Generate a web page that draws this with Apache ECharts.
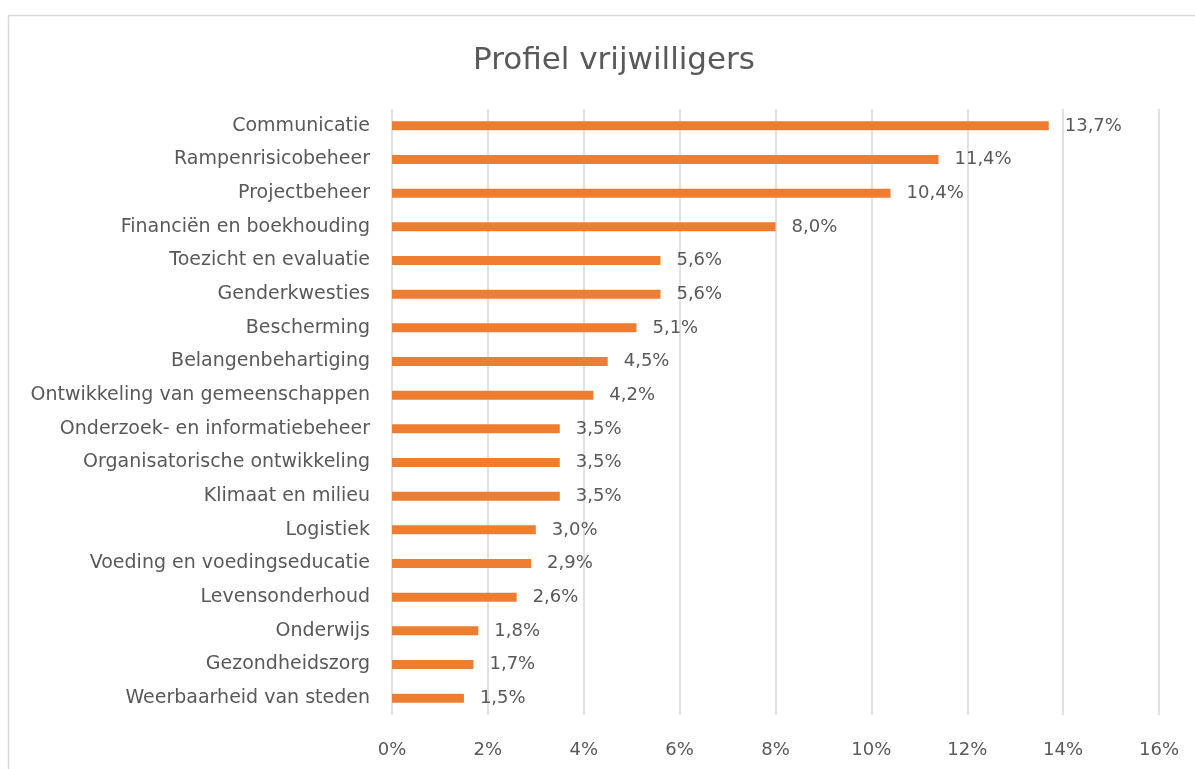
<html>
<head>
    <meta charset="utf-8">
    <script src="https://cdn.jsdelivr.net/npm/echarts@6/dist/echarts.min.js"></script>
</head>
<body>
    <style>
        html,
        body {
            width: 100%;
            height: 100%;
            margin: 0;
            background: #fff;
        }
    </style>
    <div id="main" style="width: 1195px;height:769px;"></div>
    <script>
        var categories = [
            'Communicatie', 'Rampenrisicobeheer', 'Projectbeheer', 'Financiën en boekhouding',
            'Toezicht en evaluatie', 'Genderkwesties', 'Bescherming', 'Belangenbehartiging',
            'Ontwikkeling van gemeenschappen', 'Onderzoek- en informatiebeheer',
            'Organisatorische ontwikkeling', 'Klimaat en milieu', 'Logistiek',
            'Voeding en voedingseducatie', 'Levensonderhoud', 'Onderwijs',
            'Gezondheidszorg', 'Weerbaarheid van steden'
        ];
        var values = [13.7, 11.4, 10.4, 8.0, 5.6, 5.6, 5.1, 4.5, 4.2, 3.5, 3.5, 3.5, 3.0, 2.9, 2.6, 1.8, 1.7, 1.5];
        var xTicks = [0, 2, 4, 6, 8, 10, 12, 14, 16];

        var font = 'DejaVu Sans';
        var grey = '#595959';

        var chart = echarts.init(document.getElementById('main'));
        var option = {
            animation: false,
            title: {
                text: 'Profiel vrijwilligers',
                left: 609,
                textAlign: 'center',
                top: 40,
                textStyle: { fontFamily: font, fontSize: 31, fontWeight: 'normal', color: grey }
            },
            graphic: [{
                type: 'rect',
                shape: { x: 8.5, y: 15.5, width: 1300, height: 900 },
                style: { fill: 'none', stroke: '#d9d9d9', lineWidth: 1.5 },
                silent: true
            }],
            grid: { left: 392, right: 36, top: 109, bottom: 54, containLabel: false },
            xAxis: {
                type: 'value',
                min: xTicks[0],
                max: xTicks[xTicks.length - 1],
                interval: 2,
                axisLine: { show: false },
                axisTick: { show: false },
                splitLine: { lineStyle: { color: '#d9d9d9', width: 1.5 } },
                axisLabel: {
                    margin: 26,
                    fontFamily: font, fontSize: 18, color: grey,
                    formatter: function (v) { return v + '%'; }
                }
            },
            yAxis: {
                type: 'category',
                inverse: true,
                data: categories,
                axisLine: { show: false },
                axisTick: { show: false },
                axisLabel: { margin: 22, fontFamily: font, fontSize: 19, color: grey }
            },
            series: [{
                type: 'bar',
                data: values,
                barWidth: 9,
                itemStyle: { color: '#ed7d31' },
                label: {
                    show: true,
                    position: 'right',
                    distance: 16,
                    fontFamily: font, fontSize: 18, color: grey,
                    formatter: function (p) { return p.value.toFixed(1).replace('.', ',') + '%'; }
                }
            }]
        };
        chart.setOption(option);
    </script>
</body>
</html>
